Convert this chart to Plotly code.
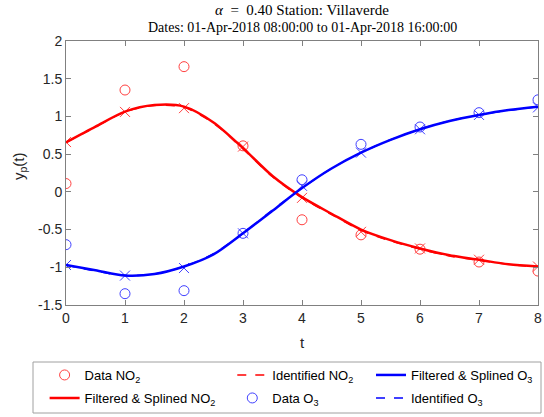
import plotly.graph_objects as go

t_pts = [0, 1, 2, 3, 4, 5, 6, 7, 8]
t_fine = [0, 0.5, 1, 1.5, 2, 2.5, 3, 3.5, 4, 4.5, 5, 5.5, 6, 6.5, 7, 7.5, 8]

data_no2 = [0.11, 1.35, 1.66, 0.61, -0.37, -0.57, -0.76, -0.93, -1.05]
data_o3 = [-0.70, -1.35, -1.31, -0.55, 0.16, 0.63, 0.86, 1.05, 1.22]

ident_pts_no2 = [0.66, 1.06, 1.11, 0.60, -0.08, -0.53, -0.75, -0.90, -0.99]
ident_pts_o3 = [-0.97, -1.11, -1.01, -0.55, 0.08, 0.52, 0.83, 1.02, 1.12]

filt_no2 = [0.655, 0.864, 1.063, 1.15, 1.13, 0.92, 0.58, 0.21, -0.07, -0.29, -0.50,
            -0.64, -0.75, -0.84, -0.90, -0.96, -0.99]
ident_no2 = [0.655, 0.86, 1.06, 1.145, 1.12, 0.91, 0.57, 0.20, -0.08, -0.30, -0.51,
             -0.65, -0.76, -0.85, -0.91, -0.96, -1.0]
filt_o3 = [-0.97, -1.04, -1.11, -1.09, -0.99, -0.83, -0.55, -0.25, 0.05, 0.31, 0.52,
           0.69, 0.83, 0.94, 1.02, 1.085, 1.13]
ident_o3 = [-0.97, -1.05, -1.11, -1.09, -0.99, -0.82, -0.55, -0.24, 0.05, 0.31, 0.52,
            0.69, 0.83, 0.94, 1.02, 1.08, 1.13]

RED = "#ff0000"
BLUE = "#0000ff"
RED_M = "#ff4040"
BLUE_M = "#4040ff"
SANS = "Liberation Sans, Arial, sans-serif"
SERIF = "Liberation Serif, Times New Roman, serif"

fig = go.Figure()

fig.add_trace(go.Scatter(x=t_pts, y=data_no2, mode="markers", name="Data NO<sub>2</sub>",
                         marker=dict(symbol="circle-open", size=10, color=RED_M, line=dict(width=1)),
                         legend="legend"))
fig.add_trace(go.Scatter(x=t_pts, y=ident_pts_no2, mode="markers", showlegend=False,
                         marker=dict(symbol="x-thin-open", size=10, color=RED_M, line=dict(width=1, color=RED_M))))
fig.add_trace(go.Scatter(x=t_fine, y=ident_no2, mode="lines", name="Identified NO<sub>2</sub>",
                         line=dict(color=RED, width=1.5, dash="dash", shape="spline", smoothing=0.8),
                         legend="legend3"))
fig.add_trace(go.Scatter(x=t_fine, y=filt_no2, mode="lines", name="Filtered & Splined NO<sub>2</sub>",
                         line=dict(color=RED, width=2.5, shape="spline", smoothing=0.8),
                         legend="legend2"))

fig.add_trace(go.Scatter(x=t_pts, y=data_o3, mode="markers", name="Data O<sub>3</sub>",
                         marker=dict(symbol="circle-open", size=10, color=BLUE_M, line=dict(width=1)),
                         legend="legend4"))
fig.add_trace(go.Scatter(x=t_pts, y=ident_pts_o3, mode="markers", showlegend=False,
                         marker=dict(symbol="x-thin-open", size=10, color=BLUE_M, line=dict(width=1, color=BLUE_M))))
fig.add_trace(go.Scatter(x=t_fine, y=ident_o3, mode="lines", name="Identified O<sub>3</sub>",
                         line=dict(color=BLUE, width=1.5, dash="dash", shape="spline", smoothing=0.8),
                         legend="legend6"))
fig.add_trace(go.Scatter(x=t_fine, y=filt_o3, mode="lines", name="Filtered & Splined O<sub>3</sub>",
                         line=dict(color=BLUE, width=2.5, shape="spline", smoothing=0.8),
                         legend="legend5"))

leg_font = dict(family=SANS, size=13, color="#000000")
common = dict(xref="container", yref="container", yanchor="top", xanchor="left",
              bgcolor="rgba(0,0,0,0)", font=leg_font, tracegroupgap=0, orientation="v")
col_x = [0.082, 0.427, 0.682]
row_y = [(417 - 360) / 417, (417 - 383) / 417]

tickfont = dict(family=SANS, size=14, color="#262626")

fig.update_layout(
    width=544, height=417,
    margin=dict(l=66, r=6, t=41, b=112, autoexpand=False),
    paper_bgcolor="white", plot_bgcolor="white",
    legend=dict(x=col_x[0], y=row_y[0], **common),
    legend2=dict(x=col_x[0], y=row_y[1], **common),
    legend3=dict(x=col_x[1], y=row_y[0], **common),
    legend4=dict(x=col_x[1], y=row_y[1], **common),
    legend5=dict(x=col_x[2], y=row_y[0], **common),
    legend6=dict(x=col_x[2], y=row_y[1], **common),
    xaxis=dict(range=[0, 8], tickvals=t_pts, ticks="inside", ticklen=5, tickcolor="#808080",
               showline=True, linecolor="#808080", linewidth=1, mirror="ticks",
               showgrid=False, zeroline=False, tickfont=tickfont),
    yaxis=dict(range=[-1.5, 2], tickvals=[-1.5, -1, -0.5, 0, 0.5, 1, 1.5, 2],
               ticktext=["-1.5", "-1", "-0.5", "0", "0.5", "1", "1.5", "2"],
               ticks="inside", ticklen=5, tickcolor="#808080",
               showline=True, linecolor="#808080", linewidth=1, mirror="ticks",
               showgrid=False, zeroline=False, tickfont=tickfont),
    annotations=[
        dict(text="<i>α</i>\u2002=\u20020.40 Station: Villaverde",
             xref="paper", yref="paper", x=0.5, y=(305 - 10) / 264, xanchor="center", yanchor="middle",
             showarrow=False, font=dict(family=SERIF, size=15, color="#000000")),
        dict(text="Dates: 01-Apr-2018 08:00:00 to 01-Apr-2018 16:00:00",
             xref="paper", yref="paper", x=0.5, y=(305 - 27) / 264, xanchor="center", yanchor="middle",
             showarrow=False, font=dict(family=SERIF, size=14, color="#000000")),
        dict(text="t", xref="paper", yref="paper", x=0.5, y=(305 - 342) / 264,
             xanchor="center", yanchor="middle", showarrow=False,
             font=dict(family=SANS, size=15, color="#262626")),
        dict(text="y<sub>p</sub>(t)", xref="paper", yref="paper", x=(19 - 66) / 472, y=(305 - 166) / 264,
             xanchor="center", yanchor="middle", showarrow=False, textangle=-90,
             font=dict(family=SANS, size=15, color="#262626")),
    ],
)

fig.add_shape(type="rect", xref="paper", yref="paper",
              x0=(33 - 66) / 472, x1=(541 - 66) / 472,
              y0=(305 - 413) / 264, y1=(305 - 362) / 264,
              line=dict(color="#a0a0a0", width=1), fillcolor="rgba(0,0,0,0)", layer="above")

fig.write_html("out.html")
